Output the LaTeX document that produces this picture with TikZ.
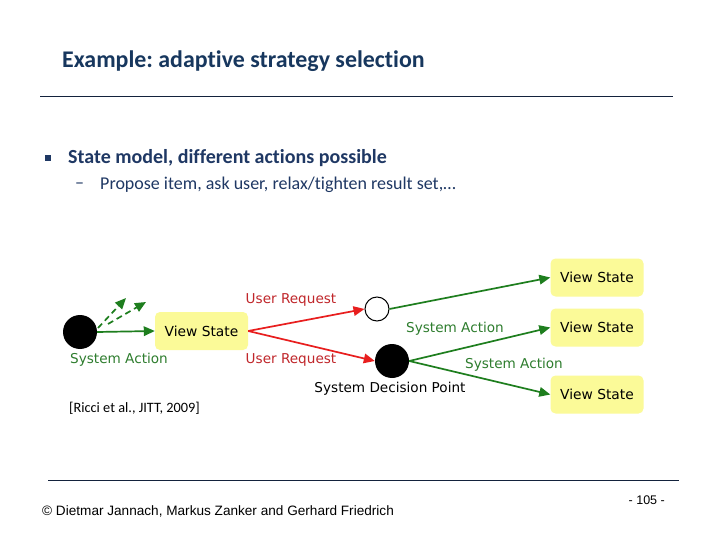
\documentclass[tikz,border=0pt]{standalone}
\usepackage{fontspec}
\setmainfont{Carlito}[RawFeature={-liga}]
\newfontfamily\dejavu{DejaVu Sans}
\newfontfamily\libsans{Liberation Sans}
\usetikzlibrary{arrows.meta}
\frenchspacing
\definecolor{navy}{HTML}{1F3864}
\definecolor{titleblue}{HTML}{17375E}
\definecolor{vsfill}{HTML}{FBFA98}
\definecolor{dgreen}{HTML}{1E7E1E}
\definecolor{lgreen}{HTML}{2E7D2E}
\definecolor{rline}{HTML}{E81E1E}
\definecolor{rlabel}{HTML}{C0262A}
\tikzset{
  vstate/.style={rounded corners=5pt, fill=vsfill, minimum width=93pt, minimum height=38pt, inner sep=0pt, font=\dejavu\fontsize{13.8}{16}\selectfont},
  greenarr/.style={draw=dgreen, line width=1.7pt, -{Triangle[length=11pt,width=9.5pt]}},
  redarr/.style={draw=rline, line width=1.7pt, -{Triangle[length=11pt,width=9.5pt]}},
  glabel/.style={text=lgreen, font=\dejavu\fontsize{13.6}{16}\selectfont, inner sep=0pt},
  rlab/.style={text=rlabel, font=\dejavu\fontsize{13.6}{16}\selectfont, inner sep=0pt},
  klabel/.style={text=black, font=\dejavu\fontsize{13.6}{16}\selectfont, inner sep=0pt},
}
\begin{document}
\begin{tikzpicture}[x=1pt,y=-1pt]
\useasboundingbox[fill=white] (0,0) rectangle (720,540);
% title
\node[anchor=west, inner sep=0pt, text=titleblue, font=\bfseries\fontsize{23.9}{28}\selectfont] (title) at (62,61) {Example: adaptive strategy selection};
\draw[line width=0.8pt, draw=navy!60!black] (40,96) -- (673,96);
% bullets
\node[fill=navy, minimum size=6.5pt, inner sep=0pt] (sq) at (48,158) {};
\node[anchor=west, inner sep=0pt, text=navy, font=\bfseries\fontsize{20}{24}\selectfont] (b1) at (68,158) {State model, different actions possible};
\node[anchor=west, inner sep=0pt, text=navy, font=\fontsize{18}{21}\selectfont] (dash) at (75,186) {–};
\node[anchor=west, inner sep=0pt, text=navy, font=\fontsize{18}{21}\selectfont] (b2) at (100,185) {Propose item, ask user, relax/tighten result set,…};
% diagram
\node[circle, fill=black, minimum size=34pt, inner sep=0pt] (c0) at (80,332) {};
\node[vstate] (v0) at (201.5,331) {View State};
\node[circle, draw=black, line width=1pt, fill=white, minimum size=24pt, inner sep=0pt] (co) at (377,309) {};
\node[circle, fill=black, minimum size=34pt, inner sep=0pt] (cd) at (392,361) {};
\node[vstate] (v1) at (597,277.5) {View State};
\node[vstate] (v2) at (597,327.5) {View State};
\node[vstate] (v3) at (597,394.5) {View State};
\coordinate (d1s) at (98,328);
\coordinate (d1e) at (126,298);
\coordinate (d2s) at (108,324);
\coordinate (d2e) at (146,302);
\draw[greenarr, dash pattern=on 6pt off 4pt] (d1s) -- (d1e);
\draw[greenarr, dash pattern=on 6pt off 4pt] (d2s) -- (d2e);
\draw[greenarr] (c0.east) -- (v0.west);
\node[glabel] (sa0) at (119,360) {System Action};
\draw[redarr] (v0.east) -- (co.west);
\draw[redarr] (v0.east) -- (cd.west);
\node[rlab] (ur1) at (291,300) {User Request};
\node[rlab] (ur2) at (291,360) {User Request};
\node[klabel] (sdp) at (390,389) {System Decision Point};
\draw[greenarr] (co.east) -- (v1.west);
\draw[greenarr] (cd.east) -- (v2.west);
\draw[greenarr] (cd.east) -- (v3.west);
\node[glabel] (sa1) at (455,329) {System Action};
\node[glabel] (sa2) at (514,365) {System Action};
\node[anchor=west, inner sep=0pt, font=\fontsize{14.3}{17}\selectfont] (ricci) at (69,408) {[Ricci et al., JITT, 2009]};
% footer
\draw[line width=0.8pt, draw=navy!60!black] (48,480) -- (679,480);
\node[anchor=west, inner sep=0pt, font=\libsans\fontsize{13.6}{16}\selectfont] (foot) at (42,511) {© Dietmar Jannach, Markus Zanker and Gerhard Friedrich};
\node[anchor=east, inner sep=0pt, font=\libsans\fontsize{12.5}{15}\selectfont] (page) at (665,500) {- 105 -};
\end{tikzpicture}
\end{document}
